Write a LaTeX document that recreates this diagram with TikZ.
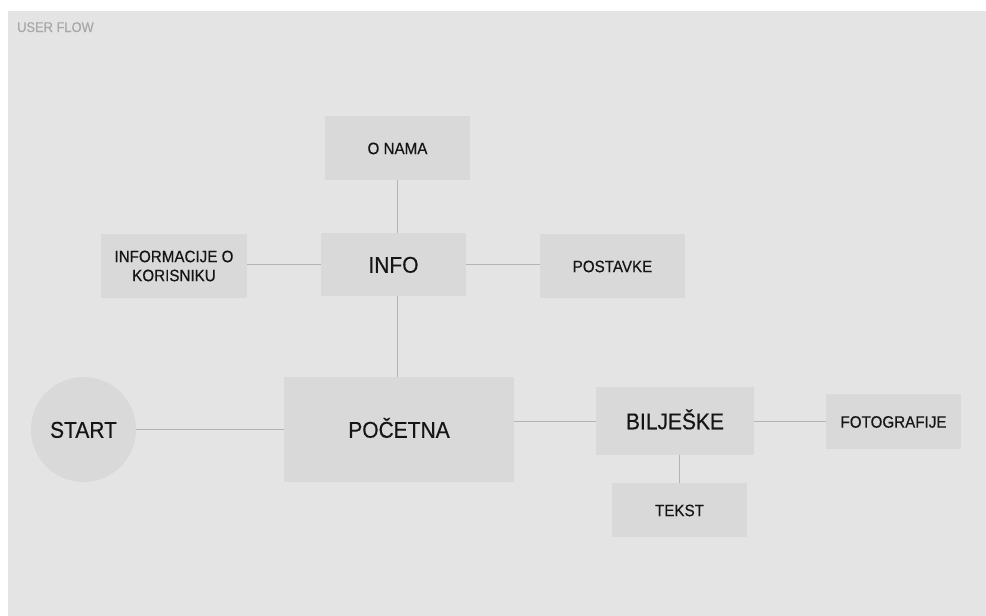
\documentclass[tikz,border=0pt]{standalone}
\usepackage{fontspec}
\setmainfont{Liberation Sans}[FakeStretch=0.92]
\newfontfamily\heavyfont{Liberation Sans}[FakeStretch=0.92, FakeBold=0.4]
\definecolor{bg}{HTML}{E4E4E4}
\definecolor{boxc}{HTML}{D9D9D9}
\definecolor{linec}{HTML}{B4B4B4}
\definecolor{txt}{HTML}{151515}
\definecolor{ttl}{HTML}{A8A8A8}
\tikzset{
  boxbase/.style={fill=boxc, draw=none, inner sep=0pt, text=txt, align=center},
  box/.style={boxbase, font=\heavyfont\fontsize{16.5}{19}\selectfont, text height=12.3pt, text depth=0pt},
  bigbox/.style={boxbase, font=\heavyfont\fontsize{22.8}{26}\selectfont, text height=16.5pt, text depth=0pt},
  conn/.style={draw=linec, line width=1pt},
}
\begin{document}
\begin{tikzpicture}[x=1pt,y=-1pt]
\useasboundingbox (0,0) rectangle (986,616);
\fill[white] (0,0) rectangle (986,616);
\fill[bg] (8,11) rectangle (986,616);
\node[anchor=base west, text=ttl, inner sep=0pt, font=\heavyfont\fontsize{14}{16}\selectfont] (title) at (17,32) {USER FLOW};

\node[box, minimum width=145, minimum height=64] (onama) at (397.5,148) {O NAMA};
\node[bigbox, minimum width=145, minimum height=63] (info) at (393.5,264.5) {INFO};
\node[boxbase, font=\heavyfont\fontsize{16.5}{19}\selectfont, minimum width=146, minimum height=64] (korisnik) at (174,266) {INFORMACIJE O\\KORISNIKU};
\node[box, minimum width=145, minimum height=64] (postavke) at (612.5,266) {POSTAVKE};
\node[bigbox, minimum width=230, minimum height=105] (pocetna) at (399,429.5) {POČETNA};
\node[bigbox, circle, minimum size=105] (start) at (83.5,429.5) {START};
\node[bigbox, minimum width=158, minimum height=68] (biljeske) at (675,421) {BILJEŠKE};
\node[box, minimum width=135, minimum height=55] (foto) at (893.5,421.5) {FOTOGRAFIJE};
\node[box, minimum width=135, minimum height=54] (tekst) at (679.5,510) {TEKST};

\draw[conn] (onama.south -| 397,0) -- (info.north -| 397,0);
\draw[conn] (info.south -| 397,0) -- (pocetna.north -| 397,0);
\draw[conn] (korisnik.east |- 0,264.5) -- (info.west |- 0,264.5);
\draw[conn] (info.east |- 0,264.5) -- (postavke.west |- 0,264.5);
\draw[conn] (start.east) -- (pocetna.west);
\draw[conn] (pocetna.east |- 0,421.5) -- (biljeske.west |- 0,421.5);
\draw[conn] (biljeske.east |- 0,421.5) -- (foto.west |- 0,421.5);
\draw[conn] (biljeske.south -| 679,0) -- (tekst.north -| 679,0);
\end{tikzpicture}
\end{document}
